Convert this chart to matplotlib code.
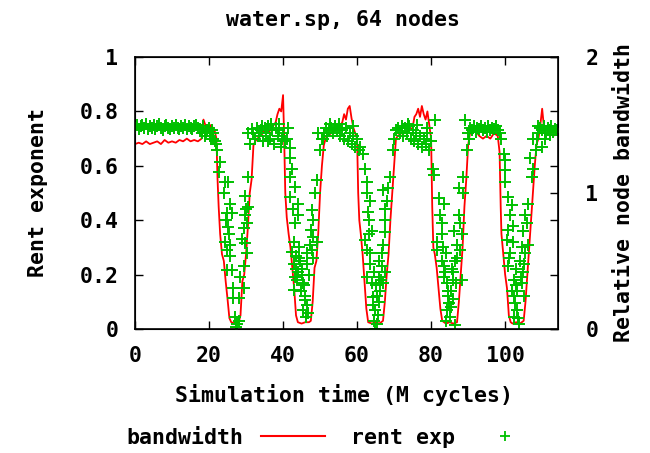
import matplotlib.pyplot as plt
from matplotlib.lines import Line2D

# bandwidth (relative node bandwidth, right axis)
bw_t = [0, 1, 2, 3, 4, 5, 6, 7, 8, 9,
        10, 11, 12, 13, 14, 15, 16, 17, 18, 18.5,
        19, 19.5, 20, 20.5, 21, 21.5, 22, 22.3, 22.6, 23,
        23.5, 24, 24.5, 25, 25.5, 26, 27, 28, 28.5, 29,
        29.5, 30, 30.5, 31, 31.5, 32, 32.5, 33, 34, 35,
        36, 37, 38, 38.5, 39, 39.5, 40, 40.3, 40.6, 41,
        41.5, 42, 42.5, 43, 43.5, 44, 45, 46, 47, 47.5,
        48, 48.5, 49, 49.5, 50, 50.5, 51, 51.5, 52, 53,
        54, 55, 56, 56.5, 57, 57.5, 58, 58.5, 59, 60,
        60.3, 60.6, 61, 61.5, 62, 62.5, 63, 64, 65, 66,
        67, 67.5, 68, 68.5, 69, 69.5, 70, 70.5, 71, 72,
        73, 74, 75, 75.5, 76, 76.5, 77, 77.5, 78, 78.5,
        79, 79.5, 80, 80.3, 80.6, 81, 81.5, 82, 82.5, 83,
        84, 85, 86, 87, 87.5, 88, 88.5, 89, 89.5, 90,
        90.5, 91, 92, 93, 94, 95, 96, 97, 98, 98.5,
        98.8, 99, 99.5, 100, 100.5, 101, 101.5, 102, 103, 104,
        105, 105.5, 106, 106.5, 107, 107.5, 108, 108.5, 109, 109.5,
        110, 110.5, 111, 112, 113, 114]
bw_val = [1.36, 1.37, 1.36, 1.38, 1.36, 1.37, 1.38, 1.36, 1.39, 1.37,
          1.38, 1.37, 1.39, 1.38, 1.40, 1.38, 1.39, 1.38, 1.40, 1.54,
          1.50, 1.48, 1.47, 1.50, 1.48, 1.46, 1.40, 1.10, 0.90, 0.70,
          0.55, 0.50, 0.35, 0.22, 0.08, 0.05, 0.04, 0.05, 0.10, 0.35,
          0.40, 0.55, 0.75, 1.00, 1.10, 1.35, 1.38, 1.40, 1.42, 1.46,
          1.44, 1.48, 1.52, 1.58, 1.62, 1.60, 1.72, 1.40, 1.00, 0.82,
          0.70, 0.60, 0.45, 0.30, 0.10, 0.05, 0.04, 0.05, 0.05, 0.06,
          0.20, 0.45, 0.50, 0.70, 1.00, 1.20, 1.35, 1.40, 1.42, 1.44,
          1.46, 1.48, 1.52, 1.58, 1.54, 1.62, 1.64, 1.55, 1.48, 1.40,
          1.00, 0.80, 0.70, 0.55, 0.35, 0.15, 0.05, 0.04, 0.05, 0.04,
          0.06, 0.20, 0.40, 0.55, 0.80, 1.00, 1.20, 1.40, 1.42, 1.44,
          1.44, 1.46, 1.48, 1.56, 1.58, 1.62, 1.56, 1.64, 1.58, 1.54,
          1.60, 1.50, 1.40, 0.90, 0.60, 0.55, 0.45, 0.30, 0.15, 0.06,
          0.04, 0.05, 0.04, 0.05, 0.20, 0.40, 0.60, 0.90, 1.10, 1.35,
          1.44, 1.44, 1.46, 1.42, 1.40, 1.42, 1.40, 1.44, 1.42, 1.30,
          0.90, 0.70, 0.55, 0.40, 0.30, 0.10, 0.05, 0.04, 0.05, 0.04,
          0.06, 0.20, 0.40, 0.60, 0.80, 1.00, 1.20, 1.36, 1.40, 1.50,
          1.62, 1.48, 1.42, 1.44, 1.42, 1.44]

# rent exponent (left axis)
rent_t = [0, 0.5, 1, 1.5, 2, 2.5, 3, 3.5, 4, 4.5,
          5, 5.5, 6, 6.5, 7, 7.5, 8, 8.5, 9, 9.5,
          10, 10.5, 11, 11.5, 12, 12.5, 13, 13.5, 14, 14.5,
          15, 15.5, 16, 16.5, 17, 17.5, 18, 18.5, 19, 19.5,
          20, 20.5, 21, 21.5, 20.2, 20.8, 21.2, 21.8, 22.2, 19.2,
          # dip 1
          23.0, 22.8, 24.3, 25.2, 24.1, 25.7, 24.9, 26.2, 25.2, 24.3,
          25.7, 24.9, 25.7, 24.9, 26.2, 26.6, 26.6, 27.1, 27.4, 28.0,
          30.6, 29.7, 30.6, 29.7, 30.2, 29.4, 29.7, 30.2, 29.4, 28.5,
          29.4, 28.1, 30.6, 31.0, 31.5, 25.4, 24.6, 29.0, 30.0, 27.6,
          32.0, 32.5, 33.0, 33.5, 34.0, 34.5, 35.0, 35.5, 36.0, 36.5,
          37.0, 37.5, 38.0, 38.5, 39.0, 39.5, 40.0, 40.5, 41.0, 41.3,
          34.2, 36.8, 38.8, 39.8, 35.8,
          # dip 2
          41.9, 41.9, 42.3, 41.9, 43.2, 41.9, 44.1, 44.0, 43.2, 42.9,
          42.3, 42.9, 44.6, 44.1, 43.2, 42.9, 45.5, 45.9, 45.5, 46.8,
          46.4, 46.2, 49.1, 48.6, 47.8, 48.2, 47.6, 48.2, 49.1, 47.8,
          48.2, 46.4, 49.5, 50.9, 43.6, 45.0, 44.4, 42.6, 46.9, 47.3,
          43.8, 44.8, 45.2, 46.0, 44.3, 45.7, 43.4, 46.6,
          50.0, 50.5, 51.0, 51.5, 52.0, 52.5, 53.0, 53.5, 54.0, 54.5,
          55.0, 55.5, 56.0, 56.5, 57.0, 57.5, 58.0, 58.5, 59.0, 59.5,
          60.0, 60.4, 52.8, 55.2, 58.8,
          # dip 3
          60.8, 61.7, 62.2, 62.6, 62.6, 63.5, 63.1, 62.2, 62.6, 63.5,
          62.6, 64.0, 64.4, 64.9, 65.3, 64.9, 67.1, 68.4, 67.6, 67.6,
          67.6, 67.1, 66.7, 66.7, 65.8, 67.1, 67.6, 66.2, 68.9, 69.8,
          63.0, 63.9, 65.4, 66.0, 68.0, 64.5,
          64.2, 65.0, 65.6, 63.6, 66.4, 64.7, 65.9, 63.3,
          70.0, 70.5, 71.0, 71.5, 72.0, 72.5, 73.0, 73.5, 74.0, 74.5,
          75.0, 75.5, 76.0, 76.5, 77.0, 77.5, 78.0, 78.5, 79.0, 79.5,
          80.0, 73.8, 76.2, 78.8, 81.1,
          # dip 4
          80.6, 80.9, 82.0, 83.4, 82.5, 82.9, 81.5, 81.5, 82.9, 83.4,
          83.4, 84.2, 84.6, 84.2, 85.1, 86.4, 84.9, 88.7, 87.4, 88.7,
          87.4, 87.8, 88.3, 87.0, 87.8, 86.4, 86.0, 86.7, 85.5, 88.3,
          89.7, 89.2, 84.0, 85.6, 83.0, 86.2,
          83.8, 84.5, 85.3, 86.0, 84.1, 85.8, 83.2, 86.9,
          90.0, 90.5, 91.0, 91.5, 92.0, 92.5, 93.0, 93.5, 94.0, 94.5,
          95.0, 95.5, 96.0, 96.5, 97.0, 97.5, 98.0, 98.5, 99.0, 90.3,
          # dip 5
          100.0, 100.0, 100.9, 101.8, 101.4, 100.9, 100.5, 101.4, 100.9, 102.3,
          101.8, 102.7, 102.3, 103.6, 99.6, 100.0, 106.3, 105.4, 105.8, 104.9,
          106.3, 105.4, 104.0, 104.9, 104.5, 103.2, 107.2, 107.6, 106.7, 108.3,
          109.9, 107.6, 102.0, 103.0, 105.0, 101.0,
          102.5, 103.3, 104.2, 102.9, 103.8, 104.6, 102.1, 105.2,
          108.5, 109.0, 109.5, 110.0, 110.5, 111.0, 111.5, 112.0, 112.5, 113.0,
          113.5, 114.0, 110.8, 112.2, 108.8]
rent_exp = [0.74, 0.75, 0.735, 0.745, 0.75, 0.74, 0.755, 0.735, 0.745, 0.74,
            0.75, 0.735, 0.745, 0.755, 0.74, 0.73, 0.745, 0.75, 0.74, 0.735,
            0.745, 0.74, 0.75, 0.74, 0.735, 0.745, 0.74, 0.75, 0.735, 0.745,
            0.74, 0.735, 0.745, 0.75, 0.74, 0.735, 0.72, 0.745, 0.71, 0.73,
            0.74, 0.70, 0.72, 0.69, 0.72, 0.73, 0.70, 0.68, 0.66, 0.725,
            # dip 1
            0.615, 0.578, 0.54, 0.54, 0.50, 0.46, 0.425, 0.425, 0.376, 0.32,
            0.31, 0.29, 0.27, 0.217, 0.217, 0.15, 0.114, 0.045, 0.008, 0.03,
            0.56, 0.49, 0.45, 0.42, 0.39, 0.37, 0.315, 0.28, 0.23, 0.19,
            0.15, 0.114, 0.72, 0.68, 0.735, 0.35, 0.40, 0.33, 0.44, 0.02,
            0.72, 0.70, 0.74, 0.71, 0.73, 0.69, 0.74, 0.72, 0.745, 0.70,
            0.73, 0.68, 0.74, 0.71, 0.73, 0.67, 0.72, 0.69, 0.70, 0.74,
            0.745, 0.755, 0.755, 0.70, 0.69,
            # dip 2
            0.664, 0.627, 0.59, 0.56, 0.523, 0.486, 0.46, 0.42, 0.39, 0.32,
            0.284, 0.24, 0.25, 0.21, 0.19, 0.143, 0.168, 0.107, 0.07, 0.06,
            0.09, 0.045, 0.548, 0.50, 0.437, 0.40, 0.364, 0.34, 0.32, 0.29,
            0.26, 0.24, 0.72, 0.70, 0.27, 0.22, 0.30, 0.44, 0.20, 0.31,
            0.18, 0.14, 0.20, 0.12, 0.26, 0.16, 0.22, 0.28,
            0.66, 0.70, 0.72, 0.74, 0.71, 0.73, 0.74, 0.72, 0.745, 0.73,
            0.74, 0.71, 0.73, 0.70, 0.74, 0.69, 0.72, 0.68, 0.71, 0.67,
            0.70, 0.66, 0.755, 0.755, 0.745,
            # dip 3
            0.67, 0.645, 0.59, 0.54, 0.50, 0.47, 0.40, 0.327, 0.29, 0.24,
            0.19, 0.168, 0.119, 0.07, 0.02, 0.0, 0.51, 0.52, 0.44, 0.40,
            0.358, 0.31, 0.28, 0.23, 0.19, 0.168, 0.21, 0.14, 0.56, 0.66,
            0.43, 0.36, 0.12, 0.25, 0.47, 0.21,
            0.09, 0.16, 0.05, 0.28, 0.18, 0.03, 0.10, 0.35,
            0.70, 0.73, 0.74, 0.72, 0.745, 0.71, 0.74, 0.72, 0.745, 0.70,
            0.73, 0.69, 0.72, 0.68, 0.71, 0.67, 0.70, 0.68, 0.72, 0.66,
            0.69, 0.755, 0.75, 0.74, 0.77,
            # dip 4
            0.59, 0.565, 0.48, 0.46, 0.42, 0.39, 0.32, 0.29, 0.25, 0.23,
            0.19, 0.168, 0.12, 0.07, 0.045, 0.015, 0.095, 0.56, 0.52, 0.50,
            0.42, 0.39, 0.35, 0.31, 0.29, 0.25, 0.21, 0.168, 0.14, 0.18,
            0.66, 0.77, 0.28, 0.22, 0.35, 0.36,
            0.21, 0.14, 0.08, 0.18, 0.03, 0.11, 0.30, 0.26,
            0.72, 0.74, 0.73, 0.745, 0.725, 0.74, 0.735, 0.745, 0.73, 0.74,
            0.725, 0.745, 0.73, 0.74, 0.735, 0.745, 0.73, 0.72, 0.70, 0.70,
            # dip 5
            0.585, 0.54, 0.486, 0.456, 0.42, 0.364, 0.327, 0.28, 0.23, 0.18,
            0.14, 0.095, 0.045, 0.04, 0.645, 0.62, 0.46, 0.42, 0.39, 0.36,
            0.31, 0.28, 0.25, 0.21, 0.17, 0.14, 0.56, 0.59, 0.63, 0.66,
            0.67, 0.70, 0.32, 0.22, 0.12, 0.26,
            0.12, 0.07, 0.19, 0.16, 0.02, 0.30, 0.38, 0.24,
            0.70, 0.72, 0.74, 0.73, 0.745, 0.72, 0.74, 0.73, 0.745, 0.725,
            0.735, 0.73, 0.70, 0.715, 0.745]

x_ticks = [0, 20, 40, 60, 80, 100]
y_ticks = [0, 0.2, 0.4, 0.6, 0.8, 1]
y_tick_labels = ['0', '0.2', '0.4', '0.6', '0.8', '1']
y2_ticks = [0, 1, 2]

plt.rcParams['font.family'] = 'DejaVu Sans Mono'
plt.rcParams['font.weight'] = 'bold'
plt.rcParams['font.size'] = 15.5

fig = plt.figure(figsize=(6.5, 4.53), dpi=100)
ax = fig.add_axes([0.2077, 0.2737, 0.6503, 0.6004])
ax2 = ax.twinx()
ax.set_zorder(ax2.get_zorder() + 1)
ax.patch.set_visible(False)

red = '#ff0000'
green = '#00c000'
ax2.plot(bw_t, bw_val, color=red, lw=1.3)
ax.plot(rent_t, rent_exp, ls='none', marker='+', ms=8, mew=1.4, color=green)

ax.set_xlim(0, 114.2)
ax.set_ylim(0, 1)
ax2.set_ylim(0, 2)
ax.set_xticks(x_ticks)
ax.set_yticks(y_ticks)
ax.set_yticklabels(y_tick_labels)
ax2.set_yticks(y2_ticks)

ax.tick_params(direction='in', length=6, width=1, top=True, right=True, labelright=False)
ax.tick_params(axis='x', pad=12)
ax.tick_params(axis='y', pad=12)
ax2.tick_params(direction='in', length=6, width=1, pad=20)
for s in ax.spines.values():
    s.set_linewidth(1.2)

fig.text(0.528, 0.956, 'water.sp, 64 nodes', ha='center', va='center')
fig.text(0.5285, 0.128, 'Simulation time (M cycles)', ha='center', va='center')
fig.text(0.0585, 0.574, 'Rent exponent', ha='center', va='center', rotation=90)
fig.text(0.960, 0.574, 'Relative node bandwidth', ha='center', va='center', rotation=90)

handles = [Line2D([], [], color=red, lw=1.5),
           Line2D([], [], ls='none', marker='+', ms=7, mew=1.3, color=green)]
fig.legend(handles, ['bandwidth', 'rent exp'], loc='center left',
           bbox_to_anchor=(0.1949, 0.0331), ncol=2, markerfirst=False,
           frameon=False, borderpad=0, borderaxespad=0, handlelength=3.0,
           handletextpad=0.8, columnspacing=1.2)

plt.savefig('out.png', dpi=100)
